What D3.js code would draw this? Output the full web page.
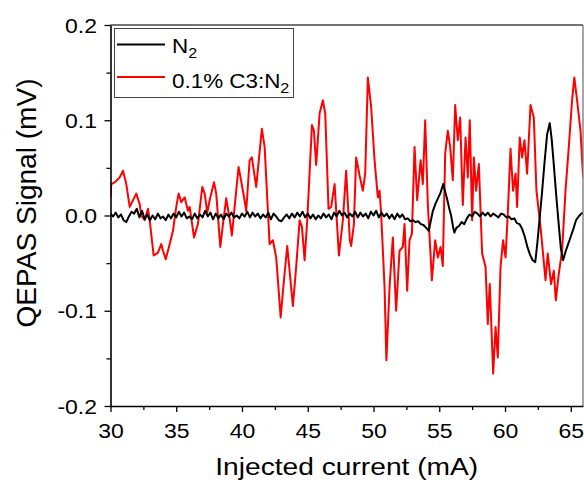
<!DOCTYPE html>
<html><head><meta charset="utf-8">
<script src="https://cdn.jsdelivr.net/npm/d3@7"></script>
<style>body{margin:0;background:#fff}svg{display:block}</style>
</head><body>
<svg id="chart" width="584" height="482"></svg>
<script>
// ---------- data ----------
const xTicks = [30, 35, 40, 45, 50, 55, 60, 65];
const xMinorTicks = [32.5, 37.5, 42.5, 47.5, 52.5, 57.5, 62.5];
const yTicks = [-0.2, -0.1, 0.0, 0.1, 0.2];
const yMinorTicks = [-0.15, -0.05, 0.05, 0.15];
const xTitle = "Injected current (mA)";
const yTitle = "QEPAS Signal (mV)";
const seriesNames = ["N", "0.1% C3:N"]; // subscript 2 appended

const n2Current = [30.0,30.2,30.4,30.6,30.8,31.0,31.2,31.4,31.6,31.8,32.0,32.2,32.4,32.6,32.8,33.0,33.2,33.4,33.6,33.8,
  34.0,34.2,34.4,34.6,34.8,35.0,35.2,35.4,35.6,35.8,36.0,36.2,36.4,36.6,36.8,37.0,37.2,37.4,37.6,37.8,
  38.0,38.2,38.4,38.6,38.8,39.0,39.2,39.4,39.6,39.8,40.0,40.2,40.4,40.6,40.8,41.0,41.2,41.4,41.6,41.8,
  42.0,42.2,42.4,42.6,42.8,43.0,43.2,43.4,43.6,43.8,44.0,44.2,44.4,44.6,44.8,45.0,45.2,45.4,45.6,45.8,
  46.0,46.2,46.4,46.6,46.8,47.0,47.2,47.4,47.6,47.8,48.0,48.2,48.4,48.6,48.8,49.0,49.2,49.4,49.6,49.8,
  50.0,50.2,50.4,50.6,50.8,51.0,51.2,51.4,51.6,51.8,52.0,52.2,52.4,52.6,52.8,53.0,53.2,53.4,53.6,53.8,
  54.0,54.2,54.35,54.5,54.7,54.9,55.1,55.3,55.45,55.6,55.75,55.9,56.05,56.15,56.3,56.5,56.7,56.9,57.1,57.3,
  57.5,57.7,57.9,58.1,58.3,58.5,58.7,58.9,59.1,59.3,59.5,59.7,59.9,60.1,60.3,60.5,60.7,60.9,61.1,61.3,
  61.5,61.7,61.9,62.1,62.3,62.45,62.6,62.8,63.0,63.2,63.4,63.55,63.7,63.9,64.1,64.25,64.42,64.6,64.8,65.0,
  65.2,65.4,65.6,65.8,65.93];
const n2Signal = [0.002,-0.001,0.003,-0.002,0.001,-0.005,-0.007,-0.001,0.004,0.002,0.007,-0.002,0.005,-0.004,0.001,-0.005,0.000,-0.004,0.002,-0.003,
  -0.001,-0.005,0.001,-0.003,0.002,-0.002,0.004,-0.001,0.003,-0.003,-0.001,-0.004,0.002,-0.003,0.001,-0.002,0.005,-0.001,0.003,-0.004,
  0.002,-0.003,0.001,-0.004,0.002,-0.001,0.003,-0.002,0.000,-0.003,0.002,-0.001,0.004,-0.002,0.003,-0.001,0.002,-0.003,0.001,-0.002,
  0.003,-0.004,0.002,-0.001,-0.005,-0.006,-0.002,0.001,-0.003,0.002,-0.002,0.003,-0.001,0.004,-0.002,0.002,-0.003,0.001,-0.004,0.000,
  -0.003,0.002,-0.002,0.001,-0.004,0.003,-0.001,0.005,0.000,0.003,-0.002,0.002,-0.001,0.004,-0.002,0.003,-0.001,0.002,-0.003,0.004,
  0.000,0.005,-0.002,0.003,-0.001,0.002,-0.003,0.001,-0.004,0.002,-0.002,0.001,-0.004,-0.003,-0.006,-0.005,-0.007,-0.006,-0.009,-0.010,
  -0.013,-0.016,-0.006,0.004,0.012,0.018,0.024,0.033,0.025,0.017,0.008,0.000,-0.012,-0.018,-0.013,-0.011,-0.007,-0.009,-0.003,0.001,
  -0.001,0.004,0.002,-0.001,0.003,0.000,0.003,-0.001,0.002,0.000,-0.002,0.002,0.001,-0.002,-0.001,-0.004,-0.003,-0.008,-0.009,-0.014,
  -0.022,-0.033,-0.041,-0.047,-0.049,-0.030,-0.008,0.022,0.055,0.085,0.097,0.080,0.055,0.020,-0.012,-0.035,-0.047,-0.038,-0.030,-0.022,
  -0.014,-0.005,-0.001,0.002,0.003];

const c3Current = [30.00,30.06,30.34,30.70,30.95,31.20,31.46,31.96,32.22,32.34,32.60,32.85,32.98,33.28,33.61,33.86,33.99,34.20,34.50,34.75,
  35.00,35.18,35.38,35.64,35.89,36.02,36.35,36.65,36.98,37.16,37.36,37.54,37.87,38.04,38.35,38.55,38.80,39.08,39.23,39.44,
  39.74,40.07,40.32,40.58,40.75,41.08,41.51,41.72,42.10,42.35,42.60,42.94,43.19,43.44,43.87,44.12,44.38,44.56,44.76,44.96,
  45.32,45.47,45.64,45.90,46.15,46.33,46.58,46.78,47.04,47.37,47.67,47.92,48.20,48.30,48.51,48.68,48.94,49.19,49.37,49.57,
  49.82,50.08,50.33,50.46,50.58,50.84,50.98,51.22,51.47,51.72,51.98,52.23,52.36,52.56,52.74,52.92,53.12,53.32,53.58,53.75,
  53.93,54.13,54.44,54.69,54.89,55.10,55.27,55.45,55.65,55.83,56.03,56.21,56.41,56.59,56.79,57.00,57.17,57.32,57.50,57.63,
  57.80,58.01,58.26,58.52,58.69,58.84,59.10,59.28,59.45,59.66,59.85,60.04,60.21,60.42,60.61,60.80,60.92,61.12,61.30,61.48,
  61.68,61.94,62.19,62.39,62.70,63.08,63.25,63.50,63.71,63.86,64.09,64.34,64.60,64.85,65.10,65.27,65.48,65.74,65.94];
const c3Signal = [0.019,0.033,0.035,0.040,0.047,0.033,0.009,0.023,0.012,0.000,-0.005,0.007,-0.005,-0.042,-0.039,-0.030,-0.037,-0.046,-0.030,-0.016,
  0.009,0.023,0.014,0.019,0.005,0.009,-0.023,-0.009,0.030,0.023,0.003,0.016,0.035,0.023,-0.033,-0.009,0.018,-0.005,-0.021,0.009,
  0.051,0.026,0.005,0.058,0.061,0.030,0.091,0.072,-0.030,-0.026,-0.044,-0.107,-0.068,-0.032,-0.095,-0.054,-0.005,-0.012,-0.047,-0.005,
  0.095,0.089,0.053,0.107,0.121,0.107,0.007,0.009,0.033,-0.042,-0.005,0.047,-0.026,-0.032,-0.009,0.061,0.042,0.026,0.044,0.145,
  0.114,0.058,0.019,0.026,0.002,-0.075,-0.152,-0.075,-0.023,-0.100,-0.037,-0.033,-0.009,-0.079,-0.026,-0.019,0.072,0.016,0.058,0.033,
  0.100,0.012,-0.068,-0.026,-0.044,-0.033,-0.053,0.065,0.089,0.072,0.037,0.116,0.079,0.103,0.011,0.082,0.040,0.100,-0.005,0.061,
  0.026,0.054,-0.040,-0.054,-0.114,-0.072,-0.166,-0.117,-0.149,-0.054,-0.026,-0.044,0.002,0.070,0.026,0.044,0.009,0.082,0.061,0.079,
  0.044,0.116,0.103,0.026,-0.012,-0.068,-0.040,-0.072,-0.058,-0.089,-0.061,-0.037,0.026,0.072,0.121,0.145,0.121,0.089,0.040];

// ---------- chart ----------
const svg = d3.select("#chart");
const L = 110.5, R = 583, T = 25, B = 406;
const x = d3.scaleLinear().domain([30, 65.93]).range([L, R]);
const y = d3.scaleLinear().domain([-0.2, 0.2]).range([B, T]);
const FONT = "'Liberation Sans', Arial, Helvetica, sans-serif";

svg.append("defs").append("clipPath").attr("id", "clip")
  .append("rect").attr("x", L).attr("y", T).attr("width", R - L).attr("height", B - T);

const line = d3.line().x(d => x(d[0])).y(d => y(d[1]));
const plot = svg.append("g").attr("clip-path", "url(#clip)");
plot.append("path").datum(d3.zip(c3Current, c3Signal))
  .attr("d", line).attr("fill", "none").attr("stroke", "#ff0000").attr("stroke-width", 2).attr("stroke-linejoin", "round");
plot.append("path").datum(d3.zip(n2Current, n2Signal))
  .attr("d", line).attr("fill", "none").attr("stroke", "#000").attr("stroke-width", 2).attr("stroke-linejoin", "round");

// frame top / right
svg.append("line").attr("x1", L).attr("x2", R).attr("y1", T).attr("y2", T).attr("stroke", "#444").attr("stroke-width", 1.3);
svg.append("line").attr("x1", R).attr("x2", R).attr("y1", T).attr("y2", B).attr("stroke", "#777").attr("stroke-width", 1.3);

// minor ticks
svg.append("g").attr("transform", `translate(0,${B})`)
  .call(d3.axisBottom(x).tickValues(xMinorTicks).tickSize(4).tickFormat(""))
  .call(g => g.select(".domain").remove())
  .call(g => g.selectAll("line").attr("stroke", "#000").attr("stroke-width", 1.3));
svg.append("g").attr("transform", `translate(${L},0)`)
  .call(d3.axisLeft(y).tickValues(yMinorTicks).tickSize(4).tickFormat(""))
  .call(g => g.select(".domain").remove())
  .call(g => g.selectAll("line").attr("stroke", "#000").attr("stroke-width", 1.3));

const SX = 1.18;
// x axis
const gx = svg.append("g").attr("transform", `translate(0,${B})`)
  .call(d3.axisBottom(x).tickValues(xTicks).tickSize(6).tickSizeOuter(0).tickFormat(d => d));
gx.select(".domain").attr("stroke", "#000").attr("stroke-width", 1.6);
gx.selectAll(".tick line").attr("stroke", "#000").attr("stroke-width", 1.3);
gx.selectAll(".tick text").attr("fill", "#000").attr("font-family", FONT).attr("font-size", "19.5px")
  .attr("y", 32).attr("dy", 0).attr("transform", `scale(${SX},1)`);

// y axis
const gy = svg.append("g").attr("transform", `translate(${L},0)`)
  .call(d3.axisLeft(y).tickValues(yTicks).tickSize(6).tickSizeOuter(0).tickFormat(d => d.toFixed(1)));
gy.select(".domain").attr("stroke", "#000").attr("stroke-width", 1.6);
gy.selectAll(".tick line").attr("stroke", "#000").attr("stroke-width", 1.3);
gy.selectAll(".tick text").attr("fill", "#000").attr("font-family", FONT).attr("font-size", "19.5px")
  .attr("x", -13.5 / SX).attr("dy", "0.36em").attr("transform", `scale(${SX},1)`);

// titles
svg.append("text").attr("x", (L + R) / 2).attr("y", 474.5).attr("text-anchor", "middle")
  .attr("font-family", FONT).attr("font-size", "23px").attr("fill", "#000")
  .attr("textLength", 263).attr("lengthAdjust", "spacingAndGlyphs").text(xTitle);
svg.append("text").attr("transform", "translate(35.5,203) rotate(-90)").attr("text-anchor", "middle")
  .attr("font-family", FONT).attr("font-size", "27px").attr("fill", "#000")
  .attr("textLength", 249).attr("lengthAdjust", "spacingAndGlyphs").text(yTitle);

// legend
const lg = svg.append("g");
lg.append("rect").attr("x", 114.5).attr("y", 28.5).attr("width", 179).attr("height", 69)
  .attr("fill", "#fff").attr("stroke", "#444").attr("stroke-width", 1);
const legendColors = ["#000", "#ff0000"];
const legendLineY = [44.5, 77];
const legendTextY = [53.3, 88.3];
seriesNames.forEach((name, i) => {
  lg.append("line").attr("x1", 117).attr("x2", 165).attr("y1", legendLineY[i]).attr("y2", legendLineY[i])
    .attr("stroke", legendColors[i]).attr("stroke-width", 2);
  const t = lg.append("text").attr("x", 172 / 1.15).attr("y", legendTextY[i])
    .attr("transform", "scale(1.15,1)")
    .attr("font-family", FONT).attr("font-size", "19.5px").attr("fill", "#000");
  t.append("tspan").text(name);
  t.append("tspan").attr("font-size", "14px").attr("dy", 5).text("2");
});
</script>
</body></html>
